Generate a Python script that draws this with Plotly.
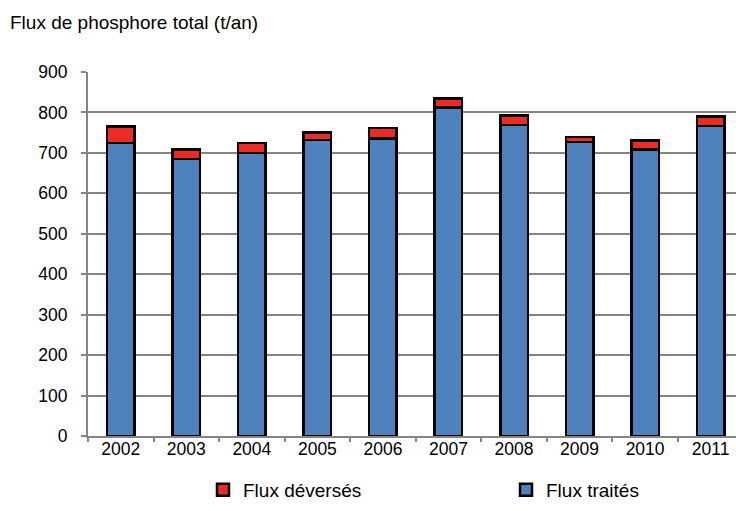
import plotly.graph_objects as go

years = ["2002", "2003", "2004", "2005", "2006", "2007", "2008", "2009", "2010", "2011"]
flux_traites = [724, 685, 700, 732, 735, 812, 769, 727, 709, 766]
flux_deverses = [41, 24, 25, 18, 27, 23, 24, 12, 22, 24]
y_ticks = [0, 100, 200, 300, 400, 500, 600, 700, 800, 900]

FONT = "Arial, 'Liberation Sans', sans-serif"
GRID = "#858585"

fig = go.Figure()
fig.add_trace(go.Bar(
    x=years, y=flux_traites, name="Flux traités",
    marker=dict(color="#4f81bd", line=dict(color="black", width=2.5)),
    width=0.42,
))
fig.add_trace(go.Bar(
    x=years, y=flux_deverses, name="Flux déversés",
    marker=dict(color="#ee2a24", line=dict(color="black", width=2.5)),
    width=0.42,
))

fig.update_layout(
    width=736, height=511,
    barmode="stack",
    paper_bgcolor="white", plot_bgcolor="white",
    margin=dict(l=88, r=0, t=72, b=75),
    font=dict(family=FONT, size=17, color="black"),
    showlegend=True,
    legend=dict(
        orientation="h", traceorder="reversed",
        xref="container", yref="container",
        x=203 / 736, xanchor="left",
        y=1 - 490 / 511, yanchor="middle",
        entrywidth=258, entrywidthmode="pixels",
        font=dict(family=FONT, size=19, color="black"),
        bgcolor="rgba(0,0,0,0)",
    ),
    annotations=[dict(
        text="Flux de phosphore total (t/an)", xref="paper", yref="paper",
        x=-80 / 648, y=1 + 50 / 364, xanchor="left", yanchor="middle",
        showarrow=False, font=dict(family=FONT, size=19, color="black"),
    )],
)

fig.update_xaxes(
    type="category", range=[-0.5, 9.387],
    showline=True, linecolor=GRID, linewidth=2,
    ticks="outside", tickson="boundaries", ticklen=4, tickcolor=GRID, tickwidth=2,
    ticklabelstandoff=-4,
    showgrid=False, tickfont=dict(size=17.5),
)
fig.update_yaxes(
    range=[0, 900], tickvals=y_ticks,
    showline=True, linecolor=GRID, linewidth=2,
    ticks="outside", ticklen=5, tickcolor=GRID, tickwidth=2,
    ticklabelstandoff=10,
    showgrid=True, gridcolor=GRID, gridwidth=2,
    zeroline=False, tickfont=dict(size=17.5),
)

fig.write_html("out.html")
